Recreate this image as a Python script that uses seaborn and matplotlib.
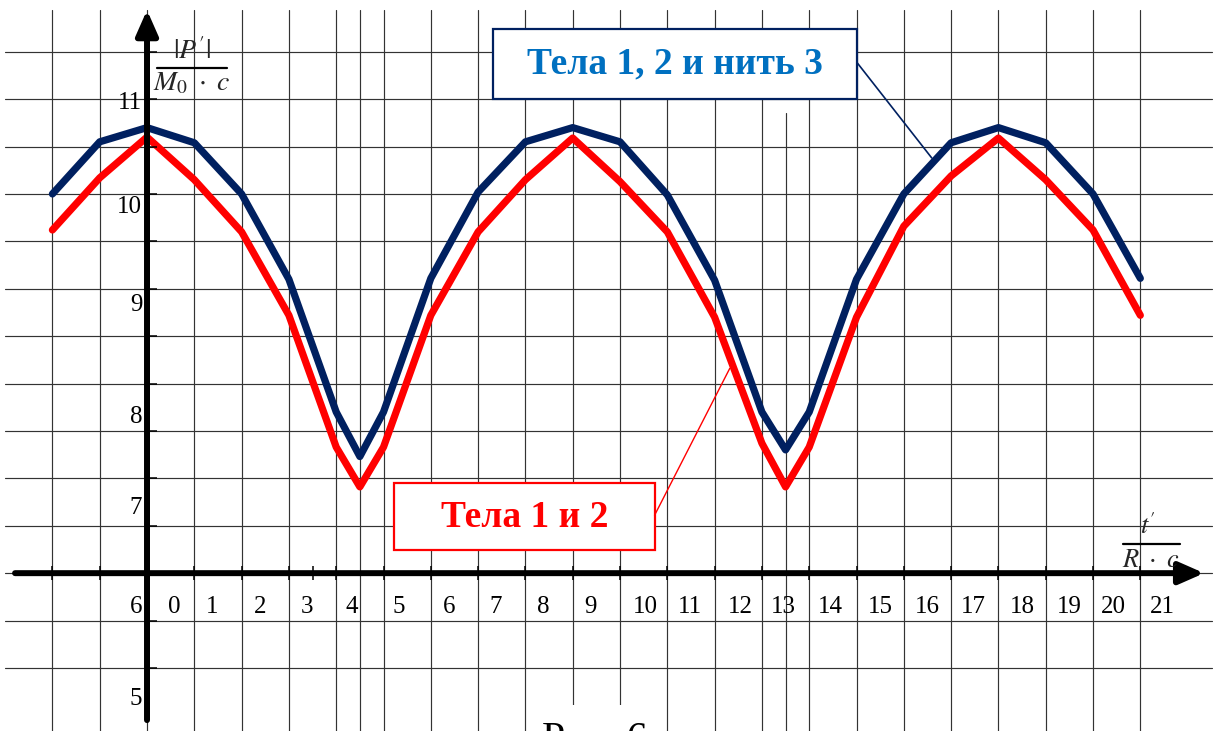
import matplotlib
matplotlib.use("Agg")
import matplotlib.pyplot as plt
import seaborn as sns
from matplotlib.patches import Rectangle


# t'/(R*c) at the vertices of both polylines
t = [-2, -1, 0, 1, 2, 3, 4, 4.5, 5, 6, 7, 8, 9, 10, 11, 12, 13, 13.5, 14,
     15, 16, 17, 18, 19, 20, 21]
# |P'|/(M0*c): bodies 1, 2 and string 3
p_blue = [10.0, 10.55, 10.7, 10.54, 10.0, 9.1, 7.7, 7.23, 7.7, 9.11, 10.02,
          10.55, 10.7, 10.55, 9.99, 9.09, 7.7, 7.3, 7.7, 9.1, 10.0, 10.54,
          10.7, 10.54, 10.0, 9.11]
# |P'|/(M0*c): bodies 1 and 2
p_red = [9.62, 10.17, 10.6, 10.15, 9.6, 8.72, 7.33, 6.91, 7.33, 8.72, 9.6,
         10.15, 10.59, 10.13, 9.6, 8.7, 7.37, 6.91, 7.33, 8.7, 9.66, 10.19,
         10.59, 10.15, 9.62, 8.72]

x_grid = list(range(-2, 22)) + [4.5, 13.5]
y_grid = [5.0, 5.5, 6.0, 6.5, 7.0, 7.5, 8.0, 8.5, 9.0, 9.5, 10.0, 10.5,
          11.0, 11.5]
x_ticks = list(range(-2, 22)) + [3.5]

x_tick_labels = [str(k) for k in range(0, 22)]
y_tick_labels = ["11", "10", "9", "8", "7", "6", "5"]

label_blue = "Тела 1, 2 и нить 3"
label_red = "Тела 1 и 2"
caption = "Рис. 6"

# layout (hand placed, like the original drawing)
x_lab_pos = [0.57, 1.37, 2.39, 3.38, 4.33, 5.33, 6.38, 7.36, 8.37, 9.37,
             10.53, 11.48, 12.54, 13.45, 14.44, 15.5, 16.49, 17.46, 18.5,
             19.5, 20.42, 21.46]
x_lab_y = 5.64
y_lab_pos = [10.96, 9.86, 8.83, 7.65, 6.69, 5.64, 4.67]
y_lab_x = -0.1

BLUE = "#002060"
RED = "#FF0000"
TEXT_BLUE = "#0070C0"
GRID = "#333333"

sns.set_theme(style="white")
plt.rcParams["font.family"] = ["Liberation Serif", "DejaVu Serif"]
plt.rcParams["mathtext.fontset"] = "stix"

fig = plt.figure(figsize=(12.16, 7.31), dpi=100)
ax = fig.add_axes([0, 0, 1, 1])
ax.set_xlim(-3.108, 22.60)
ax.set_ylim(4.335, 12.046)
ax.axis("off")

# grid
for xv in x_grid:
    top = 10.85 if xv == 13.5 else 11.94
    ax.plot([xv, xv], [4.3, top], color=GRID, lw=0.85, zorder=1)
for yv in y_grid:
    ax.plot([-3.0, 22.52], [yv, yv], color=GRID, lw=0.85, zorder=1)

# white gap under the caption
ax.add_patch(Rectangle((8.07, 4.2), 2.9, 0.41, facecolor="white",
                       edgecolor="none", zorder=2))

# axes with arrows
arr = dict(arrowstyle="-|>,head_length=0.75,head_width=0.33", lw=4.3,
           color="black", shrinkA=0, shrinkB=0, mutation_scale=20)
ax.annotate("", xy=(0, 11.94), xytext=(0, 4.45), arrowprops=arr, zorder=6)
ax.annotate("", xy=(22.35, 6.0), xytext=(-2.79, 6.0), arrowprops=arr, zorder=6)
ax.plot([0] * len(y_grid), y_grid, ls="none", marker=1, ms=7, mew=1.1,
        color="black", zorder=6)
ax.plot(x_ticks, [6.0] * len(x_ticks), ls="none", marker="|", ms=10,
        mew=1.1, color="black", zorder=6)

# curves
sns.lineplot(x=t, y=p_blue, ax=ax, color=BLUE, lw=5.2, sort=False,
             estimator=None, zorder=5)
sns.lineplot(x=t, y=p_red, ax=ax, color=RED, lw=5.2, sort=False,
             estimator=None, zorder=4)

# tick labels
for pos, lab in zip(x_lab_pos, x_tick_labels):
    ax.text(pos, x_lab_y, lab, ha="center", va="center", fontsize=18,
            color="black", zorder=7)
for pos, lab in zip(y_lab_pos, y_tick_labels):
    ax.text(y_lab_x, pos, lab, ha="right", va="center", fontsize=18,
            color="black", zorder=7)

# axis names as fractions
ax.text(0.95, 11.5, r"$|P'|$", ha="center", va="center",
        fontsize=20, zorder=7)
ax.plot([0.21, 1.69], [11.33, 11.33], color="black", lw=1.6, zorder=7)
ax.text(0.95, 11.16, r"$M_0\ \cdot\ c$", ha="center", va="center",
        fontsize=20, zorder=7)

ax.text(21.15, 6.5, r"$t'$", ha="center", va="center",
        fontsize=19, zorder=7)
ax.plot([20.64, 21.83], [6.31, 6.31], color="black", lw=1.6, zorder=7)
ax.text(21.23, 6.13, r"$R\ \cdot\ c$", ha="center", va="center",
        fontsize=19, zorder=7)

# callout boxes
ax.add_patch(Rectangle((7.31, 11.0), 7.71, 0.74, facecolor="white",
                       edgecolor=BLUE, lw=1.6, zorder=8))
ax.text(11.16, 11.37, label_blue, ha="center", va="center", fontsize=27,
        fontweight="bold", color=TEXT_BLUE, zorder=9)
ax.plot([15.02, 16.59], [11.38, 10.38], color=BLUE, lw=1.2, zorder=8)

ax.add_patch(Rectangle((5.22, 6.24), 5.51, 0.71, facecolor="white",
                       edgecolor=RED, lw=1.6, zorder=8))
ax.text(7.98, 6.59, label_red, ha="center", va="center", fontsize=27,
        fontweight="bold", color=RED, zorder=9)
ax.plot([10.73, 12.32], [6.61, 8.16], color=RED, lw=1.0, zorder=8)

ax.text(9.47, 4.43, caption, ha="center", va="top", fontsize=30,
        color="black", zorder=9)

fig.savefig("out.png", dpi=100)
